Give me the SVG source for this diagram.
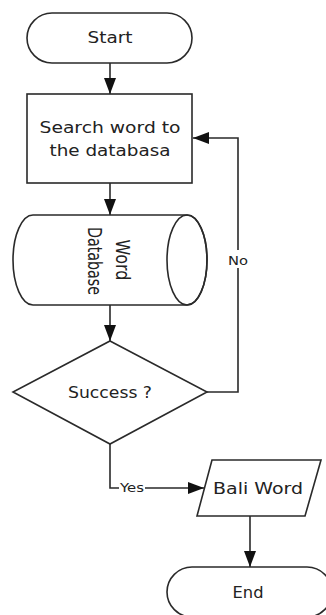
<svg xmlns="http://www.w3.org/2000/svg" width="326" height="615" viewBox="0 0 326 615">
<style>
.s{fill:#fff;stroke:#2a2a2a;stroke-width:1.6}
.c{fill:none;stroke:#2a2a2a;stroke-width:1.6}
text{font-family:"DejaVu Sans",Verdana,sans-serif;font-size:15px;fill:#222;text-anchor:middle}
.sm{font-size:12px}
.v{font-size:16px}
</style>
<defs>
<marker id="ah" viewBox="0 0 16 12" refX="16" refY="6" markerWidth="16" markerHeight="12" markerUnits="userSpaceOnUse" orient="auto">
<path d="M0,0 L16,6 L0,12 Z" fill="#111"/>
</marker>
</defs>
<rect width="326" height="615" fill="#fff"/>
<g id="connectors">
<path class="c" d="M110,63 V94" marker-end="url(#ah)"/>
<path class="c" d="M110,183 V215" marker-end="url(#ah)"/>
<path class="c" d="M110,305 V341" marker-end="url(#ah)"/>
<path class="c" d="M207,392 H238 V138 H193" marker-end="url(#ah)"/>
<path class="c" d="M110,444 V488 H204" marker-end="url(#ah)"/>
<path class="c" d="M250,516 V567" marker-end="url(#ah)"/>
<rect x="226" y="250" width="24" height="18" fill="#fff"/>
<text x="238" y="265" class="sm" textLength="20" lengthAdjust="spacingAndGlyphs">No</text>
<rect x="119" y="481" width="26" height="14" fill="#fff"/>
<text x="132" y="492" class="sm" textLength="24" lengthAdjust="spacingAndGlyphs">Yes</text>
</g>
<g id="start">
<rect class="s" x="27" y="13" width="165" height="50" rx="25"/>
<text x="110" y="43" textLength="45" lengthAdjust="spacingAndGlyphs">Start</text>
</g>
<g id="search">
<rect class="s" x="27" y="94" width="165" height="89"/>
<text x="110" y="133" textLength="141" lengthAdjust="spacingAndGlyphs">Search word to</text>
<text x="110" y="156" textLength="121" lengthAdjust="spacingAndGlyphs">the databasa</text>
</g>
<g id="database">
<path class="s" d="M33,215 H187 A20,45 0 0 1 187,305 H33 A20,45 0 0 1 33,215 Z"/>
<ellipse class="c" cx="187" cy="260" rx="20" ry="45"/>
<g transform="translate(116,260) scale(1.2,1) rotate(90)">
<text class="v" x="0" y="0" textLength="41" lengthAdjust="spacingAndGlyphs">Word</text>
</g>
<g transform="translate(88,261) scale(1.2,1) rotate(90)">
<text class="v" x="0" y="0" textLength="68" lengthAdjust="spacingAndGlyphs">Database</text>
</g>
</g>
<g id="success">
<polygon class="s" points="110,341 207,392 110,444 13,392"/>
<text x="110" y="398" textLength="84" lengthAdjust="spacingAndGlyphs">Success ?</text>
</g>
<g id="bali">
<polygon class="s" points="212,460 321,460 305,516 197,516"/>
<text x="258" y="494" textLength="90" lengthAdjust="spacingAndGlyphs">Bali Word</text>
</g>
<g id="end">
<rect class="s" x="167" y="567" width="165" height="50" rx="25"/>
<text x="248" y="598" textLength="31" lengthAdjust="spacingAndGlyphs">End</text>
</g>
</svg>
